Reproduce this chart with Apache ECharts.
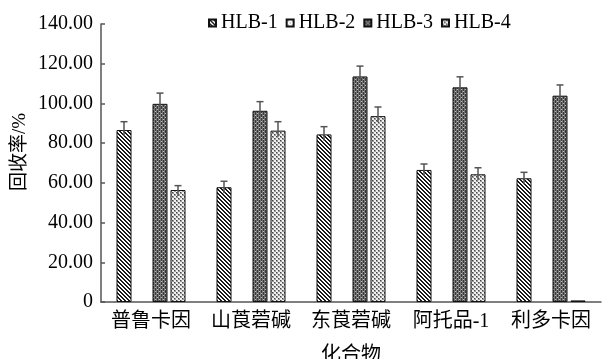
<!DOCTYPE html>
<html>
<head>
<meta charset="utf-8">
<script src="https://cdn.jsdelivr.net/npm/echarts@6/dist/echarts.min.js"></script>
<style>html,body{margin:0;padding:0;background:#fff;}#c{width:602px;height:359px;}</style>
</head>
<body>
<div id="c"></div>
<script>
const categories = ['普鲁卡因', '山莨菪碱', '东莨菪碱', '阿托品-1', '利多卡因'];
const seriesNames = ['HLB-1', 'HLB-2', 'HLB-3', 'HLB-4'];
const HLB1 = [86.6, 57.8, 84.4, 66.5, 62.3];
const HLB2 = [0, 0, 0, 0, 0];
const HLB3 = [99.8, 96.3, 113.6, 108.1, 103.9];
const HLB4 = [56.4, 86.3, 93.6, 64.3, 0.8];
const ERR1 = [4.2, 3.0, 3.9, 3.0, 3.0];
const ERR2 = [0, 0, 0, 0, 0];
const ERR3 = [5.4, 4.6, 5.2, 5.3, 5.4];
const ERR4 = [2.2, 4.5, 4.6, 3.3, 0];
const yTicks = [0, 20, 40, 60, 80, 100, 120, 140];

function makePattern(kind) {
  const c = document.createElement('canvas');
  c.width = 4; c.height = 4;
  const g = c.getContext('2d');
  if (kind === 1) {
    g.fillStyle = '#fff'; g.fillRect(0, 0, 4, 4);
    g.fillStyle = '#1a1a1a';
    for (let y = 0; y < 4; y++) for (let x = 0; x < 4; x++) {
      const d = ((x - y) % 4 + 4) % 4;
      if (d === 0 || d === 1) g.fillRect(x, y, 1, 1);
    }
  } else if (kind === 3) {
    g.fillStyle = '#3a3a3a'; g.fillRect(0, 0, 4, 4);
    g.fillStyle = '#777'; g.fillRect(0, 0, 1, 4); g.fillRect(2, 0, 1, 4);
    g.fillStyle = '#bbb'; g.fillRect(1, 1, 1, 1); g.fillRect(3, 3, 1, 1);
  } else if (kind === 4) {
    g.fillStyle = '#f0f0f0'; g.fillRect(0, 0, 4, 4);
    g.fillStyle = '#999'; g.fillRect(0, 0, 2, 2); g.fillRect(2, 2, 2, 2);
    g.fillStyle = '#444'; g.fillRect(0, 0, 1, 1); g.fillRect(2, 2, 1, 1);
  } else {
    g.fillStyle = '#fff'; g.fillRect(0, 0, 4, 4);
    g.fillStyle = '#777'; g.fillRect(1, 1, 1, 1); g.fillRect(3, 3, 1, 1);
  }
  return { image: c, repeat: 'repeat' };
}

const values = [HLB1, HLB2, HLB3, HLB4];
const errs = [ERR1, ERR2, ERR3, ERR4];
const kinds = [1, 2, 3, 4];

const barSeries = seriesNames.map((n, i) => ({
  name: n,
  type: 'bar',
  barWidth: 15,
  barGap: '20%',
  data: values[i].map(v => v === 0 ? null : v),
  itemStyle: { color: makePattern(kinds[i]), borderColor: '#111', borderWidth: 1 },
  emphasis: { disabled: true }
}));

const errData = [];
seriesNames.forEach((n, i) => {
  values[i].forEach((v, j) => {
    if (errs[i][j] > 0) errData.push([j, v, errs[i][j], i]);
  });
});

const errSeries = {
  type: 'custom',
  z: 10,
  silent: true,
  data: errData,
  encode: { x: 0, y: 1 },
  renderItem: function (params, api) {
    const ci = api.value(0), v = api.value(1), e = api.value(2), si = api.value(3);
    const off = (si - 1.5) * 18;
    const p0 = api.coord([ci, v]);
    const p1 = api.coord([ci, v + e]);
    const x = p0[0] + off;
    const style = { stroke: '#555', lineWidth: 1.5 };
    return {
      type: 'group',
      children: [
        { type: 'line', shape: { x1: x, y1: p0[1] + 6, x2: x, y2: p1[1] }, style: style },
        { type: 'line', shape: { x1: x - 3.5, y1: p1[1], x2: x + 3.5, y2: p1[1] }, style: style }
      ]
    };
  }
};

const cjk = 'Liberation Serif, Noto Sans CJK SC';
const chart = echarts.init(document.getElementById('c'), null, { renderer: 'canvas' });
chart.setOption({
  animation: false,
  backgroundColor: '#fff',
  legend: {
    data: seriesNames,
    left: 203,
    top: 8,
    icon: 'rect',
    itemWidth: 7,
    itemHeight: 7,
    itemGap: 8,
    textStyle: { fontFamily: 'Liberation Serif', fontSize: 20, color: '#000' }
  },
  grid: { left: 101, right: 1, top: 24, bottom: 57, containLabel: false, outerBoundsMode: 'none' },
  xAxis: {
    type: 'category',
    data: categories,
    name: '化合物',
    nameLocation: 'middle',
    nameGap: 44,
    nameMoveOverlap: false,
    nameTextStyle: { fontFamily: cjk, fontSize: 20, color: '#000' },
    axisLine: { lineStyle: { color: '#555', width: 1.5 } },
    axisTick: { show: false },
    axisLabel: { fontFamily: cjk, fontSize: 20, color: '#000', margin: 10, interval: 0 },
    splitLine: { show: false }
  },
  yAxis: {
    type: 'value',
    min: yTicks[0],
    max: yTicks[yTicks.length - 1],
    interval: 20,
    name: '回收率/%',
    nameLocation: 'middle',
    nameGap: 71,
    nameMoveOverlap: false,
    nameTextStyle: { fontFamily: cjk, fontSize: 19, color: '#000', padding: [0, 0, 0, 22] },
    axisLine: { show: true, lineStyle: { color: '#555', width: 1.5 } },
    axisTick: { show: true, inside: true, length: 4, lineStyle: { color: '#555', width: 1.5 } },
    axisLabel: {
      fontFamily: 'Liberation Serif', fontSize: 20, color: '#000', margin: 8,
      formatter: v => v === 0 ? '0' : v.toFixed(2)
    },
    splitLine: { show: false }
  },
  series: barSeries.concat([errSeries])
});
</script>
</body>
</html>
